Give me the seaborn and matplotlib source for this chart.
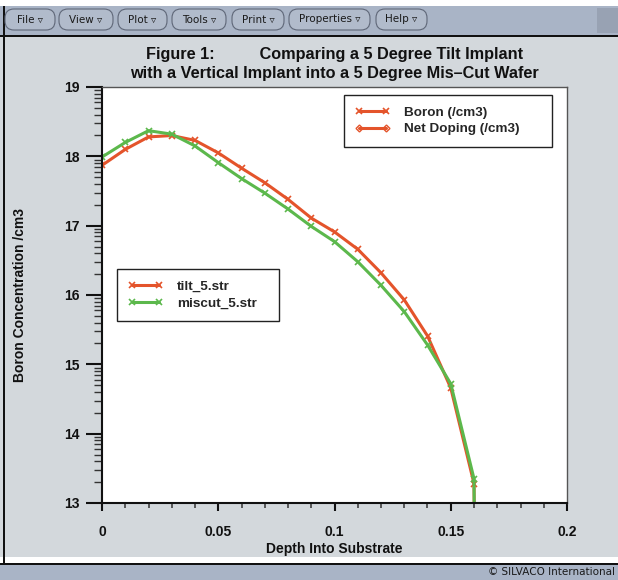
import matplotlib
matplotlib.use("Agg")
import matplotlib.pyplot as plt
import seaborn as sns
from matplotlib.lines import Line2D
from matplotlib.patches import Rectangle, FancyBboxPatch
from matplotlib.transforms import IdentityTransform
from matplotlib.ticker import FixedLocator, MultipleLocator, FuncFormatter

# === Data (y is log10 of concentration) ===
depth = [0.0, 0.01, 0.02, 0.03, 0.04, 0.05, 0.06, 0.07, 0.08,
         0.09, 0.10, 0.11, 0.12, 0.13, 0.14, 0.15, 0.16, 0.1602]
tilt_5 = [17.87, 18.10, 18.28, 18.30, 18.23, 18.05, 17.83, 17.62, 17.38,
          17.11, 16.91, 16.66, 16.32, 15.93, 15.41, 14.66, 13.28, 12.5]
miscut_5 = [17.99, 18.20, 18.37, 18.32, 18.15, 17.91, 17.68, 17.47, 17.24,
            16.99, 16.77, 16.48, 16.14, 15.76, 15.28, 14.72, 13.35, 12.5]

series_names = ["tilt_5.str", "miscut_5.str"]
quantity_names = ["Boron (/cm3)", "Net Doping (/cm3)"]
menu_items = ["File", "View", "Plot", "Tools", "Print", "Properties", "Help"]
menu_x = [(5, 55), (59, 113), (118, 167), (172, 226), (232, 284), (289, 370), (376, 427)]
x_major = [0, 0.05, 0.1, 0.15, 0.2]
y_decades = [13, 14, 15, 16, 17, 18, 19]

RED = "#e4542b"
GREEN = "#5cb84c"
PANEL = "#d3d8dc"
BAR = "#a9b4c6"

sns.set_theme(style="ticks")
plt.rcParams["font.family"] = ["Liberation Sans", "DejaVu Sans"]

W, H = 618, 580
fig = plt.figure(figsize=(W / 100, H / 100), dpi=100, facecolor=PANEL)
px = IdentityTransform()
PT = 0.72  # points per pixel at dpi 100


def rect(x0, y0, x1, y1, color, z=0):
    # pixel box, y measured from the top
    fig.add_artist(Rectangle((x0, H - y1), x1 - x0, y1 - y0, transform=px,
                             facecolor=color, edgecolor="none", zorder=z))


# === Window chrome ===
rect(0, 0, W, 6, "white")
rect(0, 6, W, 35, BAR)
rect(0, 35, W, 36.5, "#111111")
rect(597, 8, W, 33, "#98a2b3")
rect(0, 557, W, 563, "white")
rect(0, 563, W, 564.5, "#111111")
rect(0, 564.5, W, H, BAR)
rect(3, 6, 4.5, 563, "#111111")

for name, (x0, x1) in zip(menu_items, menu_x):
    fig.add_artist(FancyBboxPatch((x0, H - 30), x1 - x0, 21, transform=px,
                                  boxstyle="round,pad=0,rounding_size=9",
                                  facecolor="#b1bbcb", edgecolor="#5f6778", lw=0.8))
    fig.text((x0 + x1) / 2 / W, 1 - 19.5 / H, name + " \u25bf", ha="center", va="center",
             fontsize=7.5, family="DejaVu Sans", color="#1a1a1a")

fig.text(615 / W, 1 - 572 / H, "\u00a9 SILVACO International", ha="right", va="center",
         fontsize=7.5, family="DejaVu Sans", color="#1a1a1a")

# === Plot ===
ax = fig.add_axes([102 / W, 1 - 503 / H, 465 / W, 416 / H], facecolor="white")

sns.lineplot(x=depth, y=tilt_5, ax=ax, color=RED, lw=2.2, marker="x", markersize=5,
             markeredgewidth=1.2, markeredgecolor=RED, estimator=None, sort=False,
             label=series_names[0])
sns.lineplot(x=depth, y=miscut_5, ax=ax, color=GREEN, lw=2.2, marker="x", markersize=5,
             markeredgewidth=1.2, markeredgecolor=GREEN, estimator=None, sort=False,
             label=series_names[1])

ax.set_xlim(0, 0.2)
ax.set_ylim(13, 19)
ax.xaxis.set_major_locator(FixedLocator(x_major))
ax.xaxis.set_minor_locator(MultipleLocator(0.01))
ax.xaxis.set_major_formatter(FuncFormatter(lambda v, p: f"{v:g}"))
ax.yaxis.set_major_locator(FixedLocator(y_decades))
minor_y = [d + v for d in y_decades[:-1] for v in (0.30103, 0.47712, 0.60206, 0.69897,
                                                  0.77815, 0.84510, 0.90309, 0.95424)]
ax.yaxis.set_minor_locator(FixedLocator(minor_y))
ax.yaxis.set_major_formatter(FuncFormatter(lambda v, p: f"{v:g}"))

ax.tick_params(axis="y", which="major", length=16 * PT, width=1.5, pad=6 * PT,
               labelsize=10, colors="#111111")
ax.tick_params(axis="y", which="minor", length=8 * PT, width=1.0, color="#333333")
ax.tick_params(axis="x", which="major", length=8 * PT, width=1.5, pad=14 * PT,
               labelsize=10, colors="#111111")
ax.tick_params(axis="x", which="minor", length=5 * PT, width=1.1, color="#333333")
plt.setp(ax.get_xticklabels() + ax.get_yticklabels(), fontweight="bold")

for side in ["left", "bottom"]:
    ax.spines[side].set_color("#111111")
    ax.spines[side].set_linewidth(1.5)
for side in ["top", "right"]:
    ax.spines[side].set_color("#555555")
    ax.spines[side].set_linewidth(1.0)

ax.set_xlabel("Depth Into Substrate", fontsize=10, fontweight="bold", color="#111111")
ax.set_ylabel("Boron Concentration /cm3", fontsize=10, fontweight="bold", color="#111111")
ax.xaxis.set_label_coords(0.5, -0.094)
ax.yaxis.set_label_coords(-0.162, 0.5)
ax.set_title("Figure 1:          Comparing a 5 Degree Tilt Implant\n"
             "with a Vertical Implant into a 5 Degree Mis\u2013Cut Wafer",
             fontsize=11.7, fontweight="bold", linespacing=1.35, pad=6.5, color="#111111")

# === Legends ===
leg_kw = dict(loc="upper left", mode="expand", numpoints=2, handlelength=2.6,
              handletextpad=1.0, borderpad=0.85, labelspacing=0.3, fancybox=False,
              edgecolor="#222222", framealpha=1, borderaxespad=0,
              prop=dict(size=9.7, weight="bold"))

qty_handles = [
    Line2D([], [], color=RED, lw=2.2, marker="x", ms=5, mew=1.2),
    Line2D([], [], color=RED, lw=2.2, marker="D", ms=3.5, mfc="none", mew=1.0),
]
leg1 = ax.legend(qty_handles, quantity_names, bbox_to_anchor=(0.520, 0.865, 0.448, 0.116), **leg_kw)
leg1.get_frame().set_linewidth(1.0)
ax.add_artist(leg1)

lines = ax.get_lines()[:2]
leg2 = ax.legend(lines, series_names, bbox_to_anchor=(0.032, 0.445, 0.349, 0.1175), **leg_kw)
leg2.get_frame().set_linewidth(1.0)

fig.savefig("out.png", dpi=100, facecolor=fig.get_facecolor())
